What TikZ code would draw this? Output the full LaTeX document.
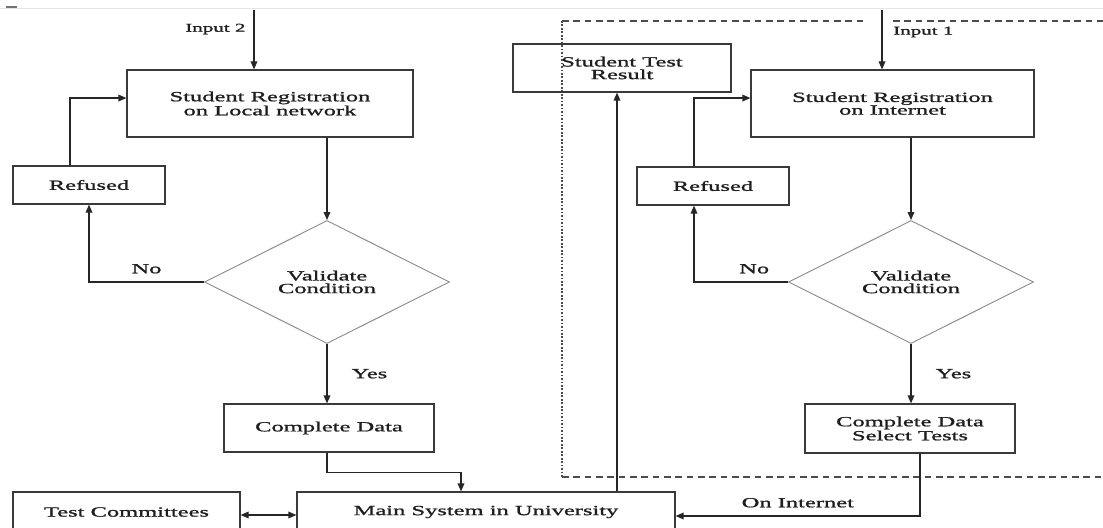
\documentclass[tikz,border=0pt]{standalone}
\usepackage{fontspec}
\setmainfont{Liberation Serif}[FakeStretch=1.75,FakeBold=1.2]
\usetikzlibrary{arrows.meta,positioning,shapes.geometric}
\definecolor{fcline}{HTML}{3A3A3A}
\definecolor{fcgray}{HTML}{8A8A8A}
\definecolor{fctext}{HTML}{1E1E1E}
\tikzset{
  procBox/.style={draw=fcline, line width=0.9pt, align=center, inner sep=2pt, text=fctext, font=\fontsize{10.5}{9.5}\selectfont},
  decBox/.style={diamond, draw=fcgray, line width=0.7pt, align=center, inner sep=0pt, minimum width=183.75pt, minimum height=92.25pt, text=fctext, font=\fontsize{10.5}{9.5}\selectfont},
  flowArrow/.style={-{Triangle[length=6pt,width=5pt]}, line width=0.9pt, draw=black!85},
  flowLabel/.style={font=\fontsize{10.5}{10}\selectfont, text=fctext, inner sep=1pt},
  inLabel/.style={font=\fontsize{9}{9}\selectfont, text=fctext, inner sep=1pt},
  groupLine/.style={draw=black!70, line width=0.8pt}
}
\begin{document}
\begin{tikzpicture}[x=0.75pt,y=-0.75pt]
  \useasboundingbox (0,0) rectangle (1103,528);
  \clip (0,0) rectangle (1103,528);
  \draw[black!10, line width=0.6pt] (0,8) -- (1103,8);
  \draw[black!55, line width=0.8pt] (6,7) -- (17,7);

  % local network side
  \coordinate (in2) at (254,10);
  \node[procBox, minimum width=214.5pt, minimum height=50.25pt] (loc) at (270,103.5) {Student Registration\\on Local network};
  \node[procBox, minimum width=114pt, minimum height=28.5pt] (ref1) at (89,185) {Refused};
  \node[decBox] (val1) at (327,282) {Validate\\Condition};
  \node[procBox, minimum width=157.5pt, minimum height=36pt] (cd1) at (329,428) {Complete Data};
  \node[procBox, minimum width=283.5pt, minimum height=30pt] (main) at (486,512) {Main System in University};
  \node[procBox, minimum width=170.25pt, minimum height=30pt] (tc) at (126.5,512) {Test Committees};

  \draw[flowArrow] (in2) -- (in2 |- loc.north) node[inLabel, pos=0.32, left=5pt] {Input 2};
  \draw[flowArrow] ([xshift=-14.25pt]ref1.north) |- ([yshift=4.1pt]loc.west);
  \draw[flowArrow] (val1.north |- loc.south) -- (val1.north);
  \draw[flowArrow] (val1.west) -| (ref1.south) node[flowLabel, pos=0.25, above=5pt] {No};
  \draw[flowArrow] (val1.south) -- (cd1.north -| val1.south) node[flowLabel, midway, right=17pt] {Yes};
  \draw[flowArrow] ([xshift=-1.5pt]cd1.south) -- ++(0,20) -| ([xshift=-18.75pt]main.north);
  \draw[flowArrow, {Triangle[length=6pt,width=5pt]}-{Triangle[length=6pt,width=5pt]}] ([yshift=-2.25pt]tc.east) -- ([yshift=-2.25pt]main.west);

  % internet side
  \draw[groupLine, dash pattern=on 1.3pt off 1.3pt] (562,21) -- (562,477);
  \draw[groupLine, dash pattern=on 5pt off 3.5pt] (562,477) -- (1103,477);
  \draw[groupLine, dash pattern=on 5pt off 3.5pt] (562,21) -- (865,21);
  \draw[groupLine, dash pattern=on 5pt off 3.5pt] (893,21) -- (1103,21);

  \coordinate (in1) at (882,10);
  \node[procBox, minimum width=163.5pt, minimum height=36pt] (stres) at (622,68) {Student Test\\Result};
  \node[procBox, minimum width=212.25pt, minimum height=50.25pt] (net) at (892.5,103.5) {Student Registration\\on Internet};
  \node[procBox, minimum width=114pt, minimum height=28.5pt] (ref2) at (713,186) {Refused};
  \node[decBox] (val2) at (911,282) {Validate\\Condition};
  \node[procBox, minimum width=157.5pt, minimum height=36.75pt] (cd2) at (910,428.5) {Complete Data\\Select Tests};

  \draw[flowArrow] (in1) -- (in1 |- net.north) node[inLabel, pos=0.37, right=7pt] {Input 1};
  \draw[flowArrow] ([xshift=-14.25pt]ref2.north) |- ([yshift=4.1pt]net.west);
  \draw[flowArrow] (val2.north |- net.south) -- (val2.north);
  \draw[flowArrow] (val2.west) -| ([xshift=-14.25pt]ref2.south) node[flowLabel, pos=0.18, above=5pt] {No};
  \draw[flowArrow] (val2.south) -- (cd2.north -| val2.south) node[flowLabel, midway, right=17pt] {Yes};
  \draw[flowArrow] ([xshift=7.5pt]cd2.south) |- ([yshift=-3pt]main.east) node[flowLabel, pos=0.75, above=5pt] {On Internet};
  \draw[flowArrow] ([xshift=-3.75pt]stres.south |- main.north) -- ([xshift=-3.75pt]stres.south);
\end{tikzpicture}
\end{document}
